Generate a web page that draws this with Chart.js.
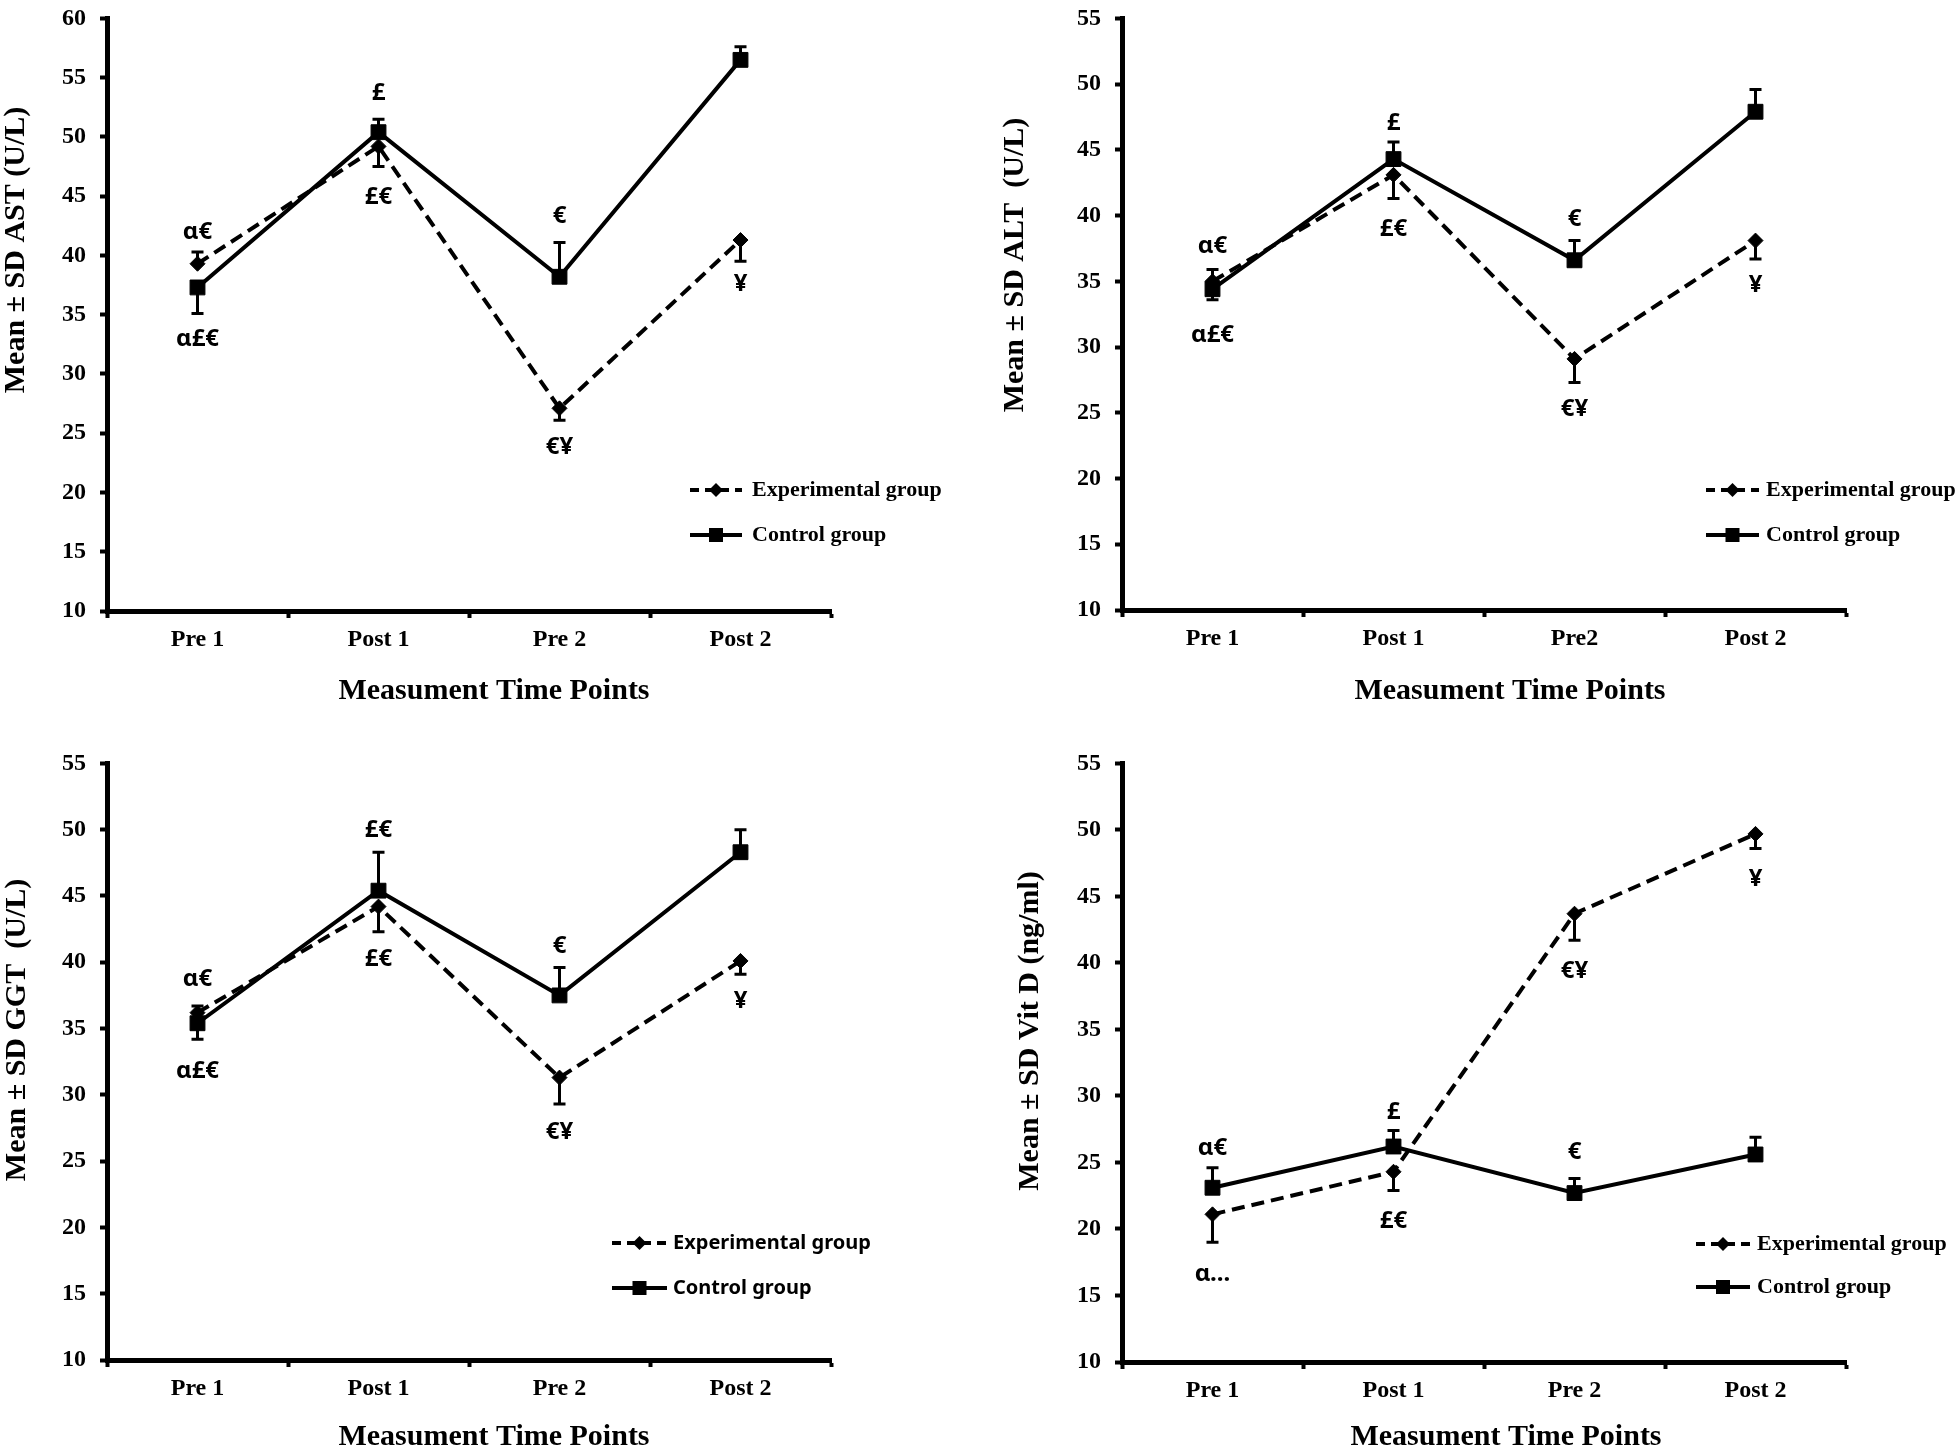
<!DOCTYPE html>
<html>
<head>
<meta charset="utf-8">
<script src="https://cdn.jsdelivr.net/npm/chart.js@4.4.1/dist/chart.umd.min.js"></script>
<style>
  body { margin: 0; background: #fff; width: 1960px; height: 1450px; position: relative; overflow: hidden; }
  canvas { position: absolute; }
</style>
</head>
<body>
<canvas id="chart_ast"></canvas>
<canvas id="chart_alt"></canvas>
<canvas id="chart_ggt"></canvas>
<canvas id="chart_vitd"></canvas>
<script>
// categories
const timePoints = ['Pre 1', 'Post 1', 'Pre 2', 'Post 2'];
const timePointsAlt = ['Pre 1', 'Post 1', 'Pre2', 'Post 2'];
const groupNames = ['Experimental group', 'Control group'];

// AST (U/L): means and where the error bar ends
const astExp = [39.3, 49.2, 27.1, 41.3];
const astExpErr = [40.3, 47.5, 26.1, 39.5];
const astCtrl = [37.3, 50.4, 38.2, 56.5];
const astCtrlErr = [35.1, 51.5, 41.1, 57.6];
const astNotes = [[0, 42.0, 'α€'], [0, 32.9, 'α£€'], [1, 53.7, '£'], [1, 44.9, '£€'],
  [2, 43.3, '€'], [2, 23.8, '€¥'], [3, 37.6, '¥']];

// ALT (U/L)
const altExp = [35.0, 43.1, 29.1, 38.1];
const altExpErr = [35.9, 41.3, 27.3, 36.7];
const altCtrl = [34.4, 44.3, 36.6, 47.9];
const altCtrlErr = [33.6, 45.6, 38.1, 49.6];
const altNotes = [[0, 37.7, 'α€'], [0, 30.9, 'α£€'], [1, 47.0, '£'], [1, 39.0, '£€'],
  [2, 39.7, '€'], [2, 25.3, '€¥'], [3, 34.7, '¥']];

// GGT (U/L)
const ggtExp = [36.2, 44.2, 31.3, 40.1];
const ggtExpErr = [36.7, 42.3, 29.3, 39.1];
const ggtCtrl = [35.4, 45.4, 37.5, 48.3];
const ggtCtrlErr = [34.2, 48.3, 39.6, 50.0];
const ggtNotes = [[0, 38.7, 'α€'], [0, 31.8, 'α£€'], [1, 50.0, '£€'], [1, 40.2, '£€'],
  [2, 41.2, '€'], [2, 27.2, '€¥'], [3, 37.1, '¥']];

// Vit D (ng/ml)
const vitdExp = [21.1, 24.3, 43.7, 49.7];
const vitdExpErr = [19.0, 22.9, 41.7, 48.6];
const vitdCtrl = [23.1, 26.2, 22.7, 25.6];
const vitdCtrlErr = [24.6, 27.4, 23.8, 26.9];
const vitdNotes = [[0, 26.1, 'α€'], [0, 16.6, 'α...'], [1, 28.8, '£'], [1, 20.6, '£€'],
  [2, 25.8, '€'], [2, 39.4, '€¥'], [3, 46.3, '¥']];

const SERIF = "'Liberation Serif', 'Times New Roman', serif";
const SANS = "'Noto Sans', 'Open Sans', sans-serif";

const errorBarPlugin = {
  id: 'errorBars',
  beforeDatasetsDraw: chart => {
    const ctx = chart.ctx;
    const yAxis = chart.scales.y;
    chart.data.datasets.forEach((ds, i) => {
      const meta = chart.getDatasetMeta(i);
      ds.errorEnds.forEach((v, j) => {
        const pt = meta.data[j];
        const yEnd = yAxis.getPixelForValue(v);
        ctx.save();
        ctx.strokeStyle = '#000';
        ctx.lineWidth = 3;
        ctx.beginPath();
        ctx.moveTo(pt.x, pt.y);
        ctx.lineTo(pt.x, yEnd);
        ctx.moveTo(pt.x - 6, yEnd);
        ctx.lineTo(pt.x + 6, yEnd);
        ctx.stroke();
        ctx.restore();
      });
    });
  }
};

// notes, legend and axis titles
const decoPlugin = {
  id: 'deco',
  afterDatasetsDraw: (chart, args, opts) => {
    const ctx = chart.ctx;
    const xAxis = chart.scales.x;
    const yAxis = chart.scales.y;
    ctx.save();
    ctx.fillStyle = '#000';
    ctx.textAlign = 'center';
    ctx.textBaseline = 'middle';
    ctx.font = 'bold 24px ' + SANS;
    for (const [cat, v, txt] of opts.notes) {
      ctx.fillText(txt, xAxis.getPixelForValue(cat), yAxis.getPixelForValue(v));
    }

    // legend
    const lg = opts.legend;
    ctx.strokeStyle = '#000';
    ctx.lineWidth = 4;
    ctx.textAlign = 'left';
    ctx.font = 'bold ' + lg.size + 'px ' + lg.font;
    const mid = (lg.x0 + lg.x1) / 2;
    ctx.setLineDash([9, 6]);
    ctx.beginPath();
    ctx.moveTo(lg.x0, lg.y[0]);
    ctx.lineTo(lg.x1, lg.y[0]);
    ctx.stroke();
    ctx.setLineDash([]);
    ctx.beginPath();
    ctx.moveTo(mid - 7, lg.y[0]);
    ctx.lineTo(mid, lg.y[0] - 7);
    ctx.lineTo(mid + 7, lg.y[0]);
    ctx.lineTo(mid, lg.y[0] + 7);
    ctx.closePath();
    ctx.fill();
    ctx.beginPath();
    ctx.moveTo(lg.x0, lg.y[1]);
    ctx.lineTo(lg.x1, lg.y[1]);
    ctx.stroke();
    ctx.fillRect(mid - 7, lg.y[1] - 7, 14, 14);
    ctx.fillText(groupNames[0], lg.tx, lg.y[0]);
    ctx.fillText(groupNames[1], lg.tx, lg.y[1]);

    // axis titles
    ctx.textAlign = 'center';
    ctx.font = 'bold 30px ' + SERIF;
    ctx.fillText('Measument Time Points', opts.xTitle[0], opts.xTitle[1]);
    ctx.save();
    ctx.translate(opts.yTitle[0], opts.yTitle[1]);
    ctx.rotate(-Math.PI / 2);
    ctx.font = 'bold 30px ' + SERIF;
    ctx.fillText(opts.yTitle[2], 0, 0);
    ctx.restore();
    ctx.restore();
  }
};

function renderPanel(canvasId, box, area, labels, yMax, exp, expErr, ctrl, ctrlErr, notes, deco) {
  const el = document.getElementById(canvasId);
  el.style.left = box.left + 'px';
  el.style.top = box.top + 'px';
  el.width = box.w;
  el.height = box.h;
  const local = (x, y) => [x - box.left, y - box.top];
  const lgA = local(deco.legend.x0, deco.legend.y[0]);
  const lgB = local(deco.legend.x1, deco.legend.y[1]);

  const tickFont = { family: SERIF, weight: 'bold', size: 24 };
  new Chart(el, {
    type: 'line',
    data: {
      labels: labels,
      datasets: [
        {
          label: groupNames[0],
          data: exp,
          errorEnds: expErr,
          borderColor: '#000',
          borderWidth: 4,
          borderDash: [13, 7],
          pointStyle: 'rectRot',
          pointRadius: 7.5,
          pointBackgroundColor: '#000',
          pointBorderColor: '#000',
          pointBorderWidth: 1,
          tension: 0
        },
        {
          label: groupNames[1],
          data: ctrl,
          errorEnds: ctrlErr,
          borderColor: '#000',
          borderWidth: 4,
          pointStyle: 'rect',
          pointRadius: 10.5,
          pointBackgroundColor: '#000',
          pointBorderColor: '#000',
          pointBorderWidth: 1,
          tension: 0
        }
      ]
    },
    options: {
      responsive: false,
      animation: false,
      layout: {
        padding: {
          left: 0,
          top: area.top - box.top,
          right: box.left + box.w - area.right,
          bottom: 0
        }
      },
      scales: {
        x: {
          offset: true,
          grid: { offset: true, drawOnChartArea: false, tickLength: 7, tickWidth: 4, color: '#000' },
          border: { display: true, color: '#000', width: 5 },
          ticks: { color: '#000', font: tickFont, padding: 7, maxRotation: 0 },
          afterFit: s => { s.height = box.top + box.h - area.bottom; }
        },
        y: {
          min: 10,
          max: yMax,
          grid: { drawOnChartArea: false, tickLength: 7, tickWidth: 4, color: '#000' },
          border: { display: true, color: '#000', width: 5 },
          ticks: { stepSize: 5, color: '#000', font: tickFont, padding: 14 },
          afterFit: s => { s.width = area.left - box.left; }
        }
      },
      plugins: {
        legend: { display: false },
        tooltip: { enabled: false },
        deco: {
          notes: notes,
          legend: {
            x0: lgA[0], x1: lgB[0], y: [lgA[1], lgB[1]],
            tx: deco.legend.tx - box.left, font: deco.legend.font, size: deco.legend.size
          },
          xTitle: local(deco.xTitle[0], deco.xTitle[1]),
          yTitle: local(deco.yTitle[0], deco.yTitle[1]).concat([deco.yTitle[2]])
        }
      }
    },
    plugins: [errorBarPlugin, decoPlugin]
  });
}

document.addEventListener('DOMContentLoaded', () => {
  renderPanel('chart_ast',
    { left: 0, top: -10, w: 980, h: 735 },
    { left: 107, top: 11, right: 831, bottom: 611 },
    timePoints, 60, astExp, astExpErr, astCtrl, astCtrlErr, astNotes,
    {
      legend: { x0: 690, x1: 742, y: [490, 535], tx: 752, font: SERIF, size: 22 },
      xTitle: [494, 691],
      yTitle: [16, 250, 'Mean ± SD AST (U/L)']
    });

  renderPanel('chart_alt',
    { left: 990, top: -10, w: 970, h: 735 },
    { left: 1122, top: 12, right: 1846, bottom: 610 },
    timePointsAlt, 55, altExp, altExpErr, altCtrl, altCtrlErr, altNotes,
    {
      legend: { x0: 1706, x1: 1759, y: [490, 535], tx: 1766, font: SERIF, size: 22 },
      xTitle: [1510, 691],
      yTitle: [1015, 265, 'Mean ± SD ALT  (U/L)']
    });

  renderPanel('chart_ggt',
    { left: 0, top: 735, w: 980, h: 715 },
    { left: 107, top: 762, right: 831, bottom: 1360 },
    timePoints, 55, ggtExp, ggtExpErr, ggtCtrl, ggtCtrlErr, ggtNotes,
    {
      legend: { x0: 612, x1: 667, y: [1243, 1288], tx: 673, font: SANS, size: 20 },
      xTitle: [494, 1437],
      yTitle: [17, 1030, 'Mean ± SD GGT  (U/L)']
    });

  renderPanel('chart_vitd',
    { left: 990, top: 735, w: 970, h: 715 },
    { left: 1122, top: 763, right: 1846, bottom: 1362 },
    timePoints, 55, vitdExp, vitdExpErr, vitdCtrl, vitdCtrlErr, vitdNotes,
    {
      legend: { x0: 1696, x1: 1750, y: [1244, 1287], tx: 1757, font: SERIF, size: 22 },
      xTitle: [1506, 1437],
      yTitle: [1030, 1031, 'Mean ± SD Vit D (ng/ml)']
    });
});
</script>
</body>
</html>
